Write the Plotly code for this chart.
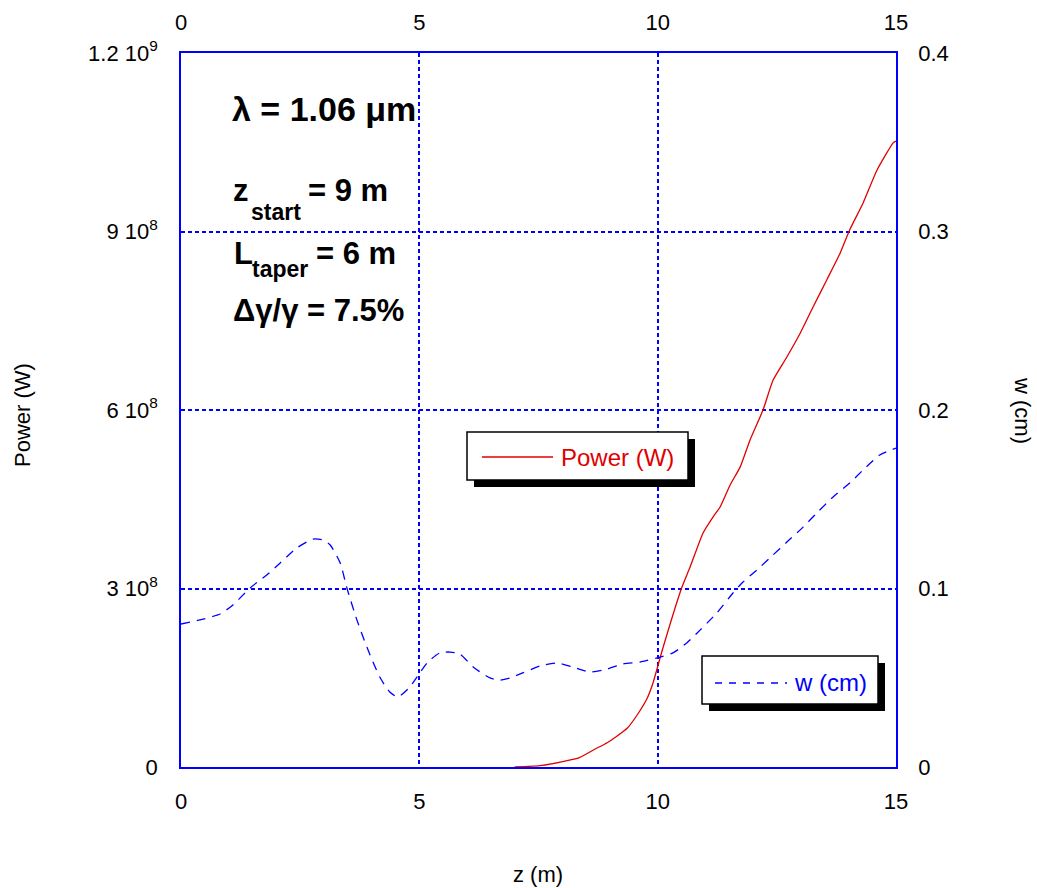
import plotly.graph_objects as go

# ---- data ----
z_power = [7.0, 7.53, 8.1, 8.37, 8.65, 8.94, 9.15, 9.36, 9.57, 9.78, 9.9, 10.11, 10.51, 10.68,
           10.95, 11.16, 11.31, 11.52, 11.73, 11.94, 12.21, 12.42, 12.71, 12.99, 13.26, 13.55,
           13.83, 14.03, 14.31, 14.6, 14.94, 15.0]
power_W = [0, 2.2e6, 1.06e7, 1.63e7, 2.86e7, 4.08e7, 5.21e7, 6.5e7, 8.74e7, 1.155e8, 1.407e8,
           2.0e8, 3.025e8, 3.36e8, 3.93e8, 4.2e8, 4.37e8, 4.74e8, 5.04e8, 5.5e8, 6.0e8, 6.5e8,
           6.89e8, 7.29e8, 7.73e8, 8.19e8, 8.64e8, 9.03e8, 9.48e8, 1.003e9, 1.049e9, 1.052e9]

z_w = [0, 0.4, 0.82, 1.09, 1.45, 1.8, 2.08, 2.43, 2.77, 2.98, 3.13, 3.34, 3.48, 3.69, 3.9, 4.17,
       4.38, 4.55, 4.8, 5.01, 5.18, 5.43, 5.64, 5.85, 6.13, 6.48, 6.69, 6.9, 7.17, 7.53, 7.89,
       8.22, 8.58, 8.94, 9.27, 9.63, 9.99, 10.32, 10.61, 10.89, 11.24, 11.58, 11.79, 12.15,
       12.42, 12.71, 13.05, 13.34, 13.68, 14.03, 14.31, 14.66, 15.0]
w_cm = [0.0801, 0.0824, 0.0857, 0.0908, 0.1003, 0.1076, 0.1143, 0.1227, 0.1277, 0.1272, 0.1244,
        0.1143, 0.1003, 0.0824, 0.0672, 0.0504, 0.0420, 0.0392, 0.0448, 0.0527, 0.0588, 0.0639,
        0.0644, 0.0633, 0.0560, 0.0499, 0.0487, 0.0499, 0.0527, 0.0566, 0.0583, 0.0560, 0.0532,
        0.0549, 0.0577, 0.0588, 0.0611, 0.0639, 0.0695, 0.0767, 0.0863, 0.0975, 0.1036, 0.1120,
        0.1188, 0.1260, 0.1344, 0.1423, 0.1513, 0.1591, 0.1664, 0.1748, 0.1787]

x_ticks = [0, 5, 10, 15]
p_ticks = [0, 3e8, 6e8, 9e8, 1.2e9]
p_ticktext = ["0", "3 10<sup>8</sup>", "6 10<sup>8</sup>", "9 10<sup>8</sup>", "1.2 10<sup>9</sup>"]
w_ticks = [0, 0.1, 0.2, 0.3, 0.4]
w_ticktext = ["0", "0.1", "0.2", "0.3", "0.4"]

# ---- styling ----
FONT = "Liberation Sans, Arial, sans-serif"
BLUE = "#0000ff"
RED = "#e00000"
W, H = 1037, 888
L, R, T, B = 181, 141, 53, 121
PW, PH = W - L - R, H - T - B


def px(x):
    return (x - L) / PW


def py(y):
    return (H - B - y) / PH


fig = go.Figure()
fig.add_trace(go.Scatter(x=z_power, y=power_W, mode="lines", name="Power (W)",
                         line=dict(color=RED, width=1.3, shape="spline", smoothing=0.5),
                         xaxis="x", yaxis="y"))
fig.add_trace(go.Scatter(x=z_w, y=w_cm, mode="lines", name="w (cm)",
                         line=dict(color=BLUE, width=1.3, dash="9px,7px", shape="spline",
                                   smoothing=0.6),
                         xaxis="x2", yaxis="y2"))

axis_common = dict(showline=True, linecolor=BLUE, linewidth=1.5, zeroline=False,
                   ticks="", tickfont=dict(family=FONT, size=22, color="black"))

fig.update_layout(
    width=W, height=H,
    margin=dict(l=L, r=R, t=T, b=B, autoexpand=False),
    paper_bgcolor="white", plot_bgcolor="white",
    showlegend=False,
    xaxis=dict(range=[0, 15], tickvals=x_ticks, showgrid=True, gridcolor=BLUE, gridwidth=1.5,
               griddash="4px,3px", side="bottom", ticklabelstandoff=14, **axis_common),
    xaxis2=dict(range=[0, 15], tickvals=x_ticks, overlaying="x", side="top", anchor="y2",
                showgrid=False, ticklabelstandoff=12, **axis_common),
    yaxis=dict(range=[0, 1.2e9], tickvals=p_ticks, ticktext=p_ticktext, showgrid=True,
               gridcolor=BLUE, gridwidth=1.5, griddash="4px,3px", ticklabelstandoff=17,
               **axis_common),
    yaxis2=dict(range=[0, 0.4], tickvals=w_ticks, ticktext=w_ticktext, overlaying="y",
                side="right", anchor="x2", showgrid=False, ticklabelstandoff=16, **axis_common),
)

shapes = []
annotations = []


def legend_box(x0, y0, x1, y1, off=7):
    shapes.append(dict(type="rect", xref="paper", yref="paper", x0=px(x0 + off), x1=px(x1 + off),
                       y0=py(y1 + off), y1=py(y0 + off), fillcolor="black", line=dict(width=0),
                       layer="above"))
    shapes.append(dict(type="rect", xref="paper", yref="paper", x0=px(x0), x1=px(x1),
                       y0=py(y1), y1=py(y0), fillcolor="white",
                       line=dict(color="black", width=1.5), layer="above"))


legend_box(467, 432, 688, 480)
shapes.append(dict(type="line", xref="paper", yref="paper", x0=px(482), x1=px(553),
                   y0=py(457), y1=py(457), line=dict(color=RED, width=1.3), layer="above"))
annotations.append(dict(text="Power (W)", xref="paper", yref="paper", x=px(559), y=py(457),
                        xanchor="left", yanchor="middle", showarrow=False,
                        font=dict(family=FONT, size=24, color=RED)))

legend_box(702, 656, 878, 704)
shapes.append(dict(type="line", xref="paper", yref="paper", x0=px(715), x1=px(787),
                   y0=py(683), y1=py(683), line=dict(color=BLUE, width=1.3, dash="7px,7px"),
                   layer="above"))
annotations.append(dict(text="w (cm)", xref="paper", yref="paper", x=px(792), y=py(682),
                        xanchor="left", yanchor="middle", showarrow=False,
                        font=dict(family=FONT, size=24, color=BLUE)))


def txt(s, x, y, size, anchor="left", angle=0, bold=True, color="black"):
    annotations.append(dict(text=("<b>%s</b>" % s) if bold else s, xref="paper", yref="paper",
                            x=px(x), y=py(y), xanchor=anchor, yanchor="middle",
                            showarrow=False, textangle=angle,
                            font=dict(family=FONT, size=size, color=color)))


txt("λ = 1.06 μm", 230, 109, 34)
txt("z", 231, 190, 31)
txt("start", 249, 212, 23)
txt("= 9 m", 306, 190, 31)
txt("L", 232, 253, 31)
txt("taper", 250, 269, 23)
txt("= 6 m", 314, 253, 31)
txt("Δγ/γ = 7.5%", 231, 310, 31)

txt("Power (W)", 22, 415, 22, anchor="center", angle=-90, bold=False)
txt("w (cm)", 1023, 411, 22, anchor="center", angle=90, bold=False)
txt("z (m)", 538, 875, 22, anchor="center", bold=False)

fig.update_layout(shapes=shapes, annotations=annotations)
fig.write_html("out.html")
